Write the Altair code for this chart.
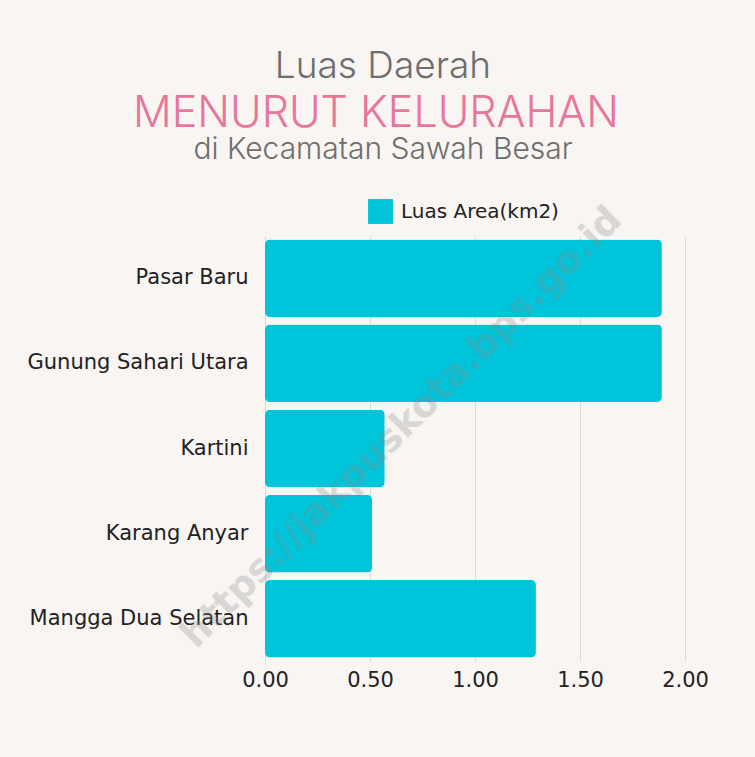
import altair as alt
import pandas as pd

kelurahan = ["Pasar Baru", "Gunung Sahari Utara", "Kartini", "Karang Anyar", "Mangga Dua Selatan"]
luas = [1.89, 1.89, 0.57, 0.51, 1.29]
series_name = "Luas Area(km2)"
x_ticks = [0, 0.5, 1.0, 1.5, 2.0]

title_lines = ["Luas Daerah", "MENURUT KELURAHAN", "di Kecamatan Sawah Besar"]
watermark = "https://jakpuskota.bps.go.id"

df = pd.DataFrame({"kelurahan": kelurahan, "luas": luas, "seri": [series_name] * len(kelurahan)})

BG = "#F8F5F2"
BAR = "#00C4D9"
FONT = "DejaVu Sans"

bars = alt.Chart(df).mark_bar(cornerRadius=5).encode(
    x=alt.X("luas:Q", scale=alt.Scale(domain=[0, 2], nice=False),
            axis=alt.Axis(values=x_ticks, format=".2f", title=None, labelFontSize=21,
                          labelColor="#222222", labelFont=FONT, labelPadding=8, labelFlush=False,
                          ticks=False, domain=False, grid=True, gridColor="#DDD8D4")),
    y=alt.Y("kelurahan:N", sort=kelurahan,
            scale=alt.Scale(paddingInner=0.09, paddingOuter=0.04),
            axis=alt.Axis(title=None, labelFontSize=21, labelColor="#222222", labelFont=FONT,
                          labelPadding=17, ticks=False, domain=False, grid=False, labelLimit=300)),
    color=alt.Color("seri:N", scale=alt.Scale(range=[BAR]),
                    legend=alt.Legend(title=None, orient="none", legendX=103, legendY=-37,
                                      symbolType="square", symbolSize=620, symbolStrokeWidth=0,
                                      labelFontSize=20, labelFont=FONT, labelColor="#222222",
                                      labelLimit=300, padding=0, labelOffset=8)),
)

t1 = alt.Chart(pd.DataFrame({"t": [title_lines[0]]})).mark_text(
    font="Inter", fontWeight=300, fontSize=37, color="#6E6E6E", align="center", baseline="alphabetic"
).encode(text="t:N", x=alt.value(118), y=alt.value(-158))
t2 = alt.Chart(pd.DataFrame({"t": [title_lines[1]]})).mark_text(
    font="Inter", fontWeight=300, fontSize=43, color="#E8759A", align="center", baseline="alphabetic"
).encode(text="t:N", x=alt.value(111), y=alt.value(-109))
t3 = alt.Chart(pd.DataFrame({"t": [title_lines[2]]})).mark_text(
    font="Inter", fontWeight=300, fontSize=30, color="#6E6E6E", align="center", baseline="alphabetic"
).encode(text="t:N", x=alt.value(118), y=alt.value(-77))

wm = alt.Chart(pd.DataFrame({"t": [watermark]})).mark_text(
    font=FONT, fontWeight="bold", fontSize=38, color="#8A8A8A", opacity=0.27,
    angle=315, align="center", baseline="middle"
).encode(text="t:N", x=alt.value(137), y=alt.value(192))

chart = alt.layer(bars, t1, t2, t3, wm).properties(
    width=420, height=425,
    autosize=alt.AutoSizeParams(type="none"),
    padding={"left": 265, "top": 236, "right": 70, "bottom": 96},
    background=BG,
).configure_view(stroke=None)

chart.save("out.html", embed_options={"renderer": "svg", "actions": False})
